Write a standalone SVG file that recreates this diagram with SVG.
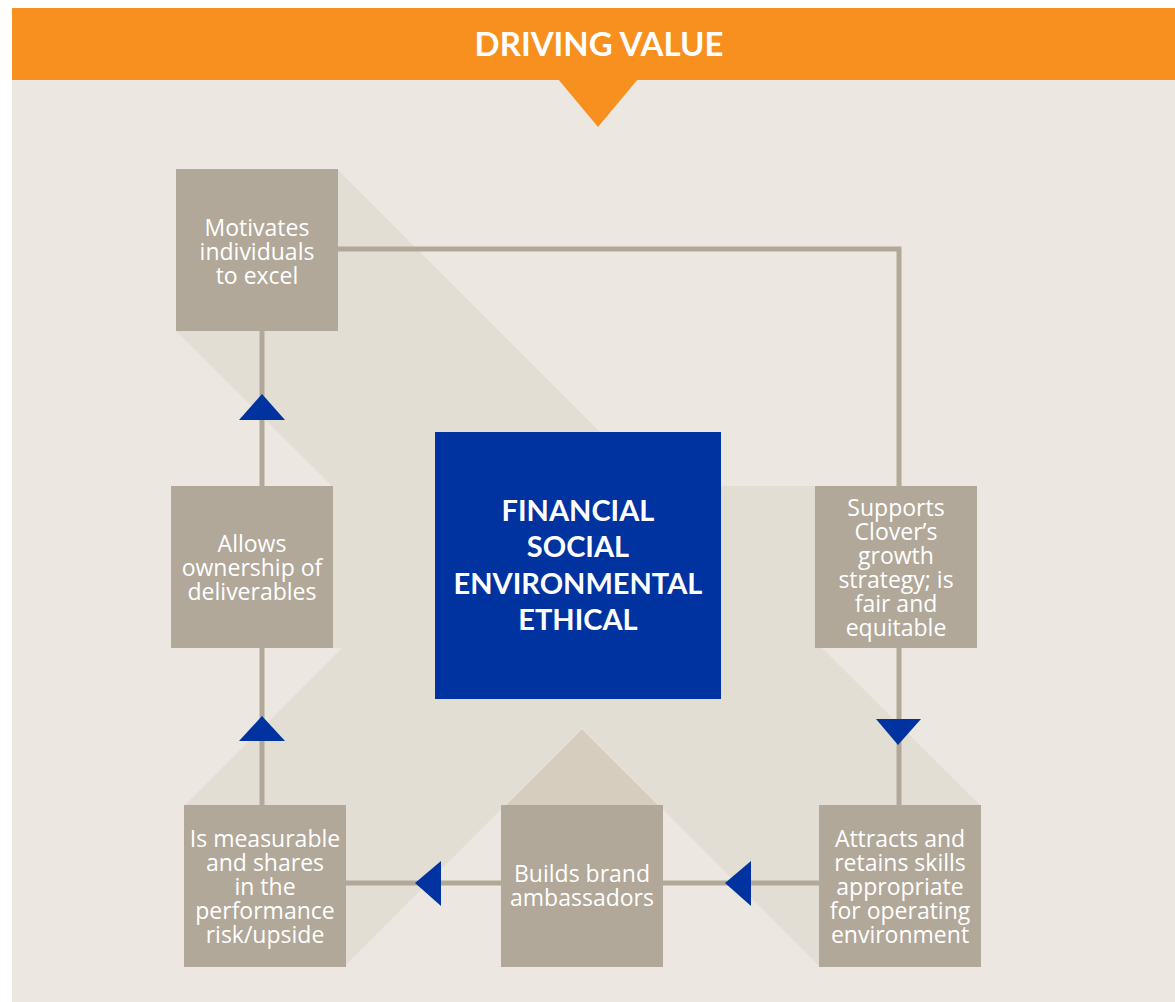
<svg xmlns="http://www.w3.org/2000/svg" width="1175" height="1002" viewBox="0 0 1175 1002">
<defs>
<style>
.box{fill:#b1a899}
.lbl{fill:#ffffff;font-family:"Open Sans",Lato,"Liberation Sans",sans-serif;font-size:23px;text-anchor:middle}
.core{fill:#ffffff;font-family:Lato,"Open Sans","Liberation Sans",sans-serif;font-size:29px;font-weight:bold;text-anchor:middle}
.conn{stroke:#b1a899;stroke-width:5;fill:none}
.arr{fill:#0033a0}
</style>
</defs>
<rect x="0" y="0" width="1175" height="1002" fill="#ffffff"/>
<rect x="12" y="80" width="1163" height="922" fill="#ece8e1"/>
<g id="background-bands">
<polygon fill="#e3ded3" points="337,169 654,486 900,486 900,648 822,648 980,805 819,966 582,728 345,966 185,805 342,648 333,648 333,487 176,331"/>
<polygon fill="#d6cdbf" points="582,729 504,807 660,807"/>
</g>
<g id="header">
<rect x="12" y="8" width="1163" height="72" fill="#f7901e"/>
<polygon points="558,79 638,79 598,127" fill="#f7901e"/>
<text x="599" y="56" fill="#ffffff" font-family="Lato,'Open Sans','Liberation Sans',sans-serif" font-size="33" font-weight="bold" text-anchor="middle">DRIVING VALUE</text>
</g>
<g id="connectors">
<polyline class="conn" points="338,249 899,249 899,486"/>
<line class="conn" x1="899" y1="648" x2="899" y2="805"/>
<line class="conn" x1="819" y1="883" x2="663" y2="883"/>
<line class="conn" x1="501" y1="883" x2="346" y2="883"/>
<line class="conn" x1="262" y1="805" x2="262" y2="648"/>
<line class="conn" x1="262" y1="486" x2="262" y2="331"/>
<polygon class="arr" points="876,719 921,719 898,745"/>
<polygon class="arr" points="725,883 751,861 751,906"/>
<polygon class="arr" points="415,883 441,861 441,906"/>
<polygon class="arr" points="262,716 239,741 285,741"/>
<polygon class="arr" points="262,394 239,420 285,420"/>
</g>
<g id="node-core">
<rect x="435" y="432" width="286" height="267" fill="#0033a0"/>
<text class="core"><tspan x="578" y="521">FINANCIAL</tspan><tspan x="578" y="557">SOCIAL</tspan><tspan x="578" y="594">ENVIRONMENTAL</tspan><tspan x="578" y="630">ETHICAL</tspan></text>
</g>
<g id="node-motivates">
<rect class="box" x="176" y="169" width="162" height="162"/>
<text class="lbl"><tspan x="257" y="236">Motivates</tspan><tspan x="257" y="260">individuals</tspan><tspan x="257" y="284">to excel</tspan></text>
</g>
<g id="node-supports">
<rect class="box" x="815" y="486" width="162" height="162"/>
<text class="lbl"><tspan x="896" y="516">Supports</tspan><tspan x="896" y="540">Clover’s</tspan><tspan x="896" y="564">growth</tspan><tspan x="896" y="588">strategy; is</tspan><tspan x="896" y="612">fair and</tspan><tspan x="896" y="636">equitable</tspan></text>
</g>
<g id="node-attracts">
<rect class="box" x="819" y="805" width="162" height="162"/>
<text class="lbl"><tspan x="900" y="847">Attracts and</tspan><tspan x="900" y="871">retains skills</tspan><tspan x="900" y="895">appropriate</tspan><tspan x="900" y="919">for operating</tspan><tspan x="900" y="943">environment</tspan></text>
</g>
<g id="node-builds">
<rect class="box" x="501" y="805" width="162" height="162"/>
<text class="lbl"><tspan x="582" y="882">Builds brand</tspan><tspan x="582" y="906">ambassadors</tspan></text>
</g>
<g id="node-measurable">
<rect class="box" x="184" y="805" width="162" height="162"/>
<text class="lbl"><tspan x="265" y="847">Is measurable</tspan><tspan x="265" y="871">and shares</tspan><tspan x="265" y="895">in the</tspan><tspan x="265" y="919">performance</tspan><tspan x="265" y="943">risk/upside</tspan></text>
</g>
<g id="node-allows">
<rect class="box" x="171" y="486" width="162" height="162"/>
<text class="lbl"><tspan x="252" y="552">Allows</tspan><tspan x="252" y="576">ownership of</tspan><tspan x="252" y="600">deliverables</tspan></text>
</g>
</svg>
